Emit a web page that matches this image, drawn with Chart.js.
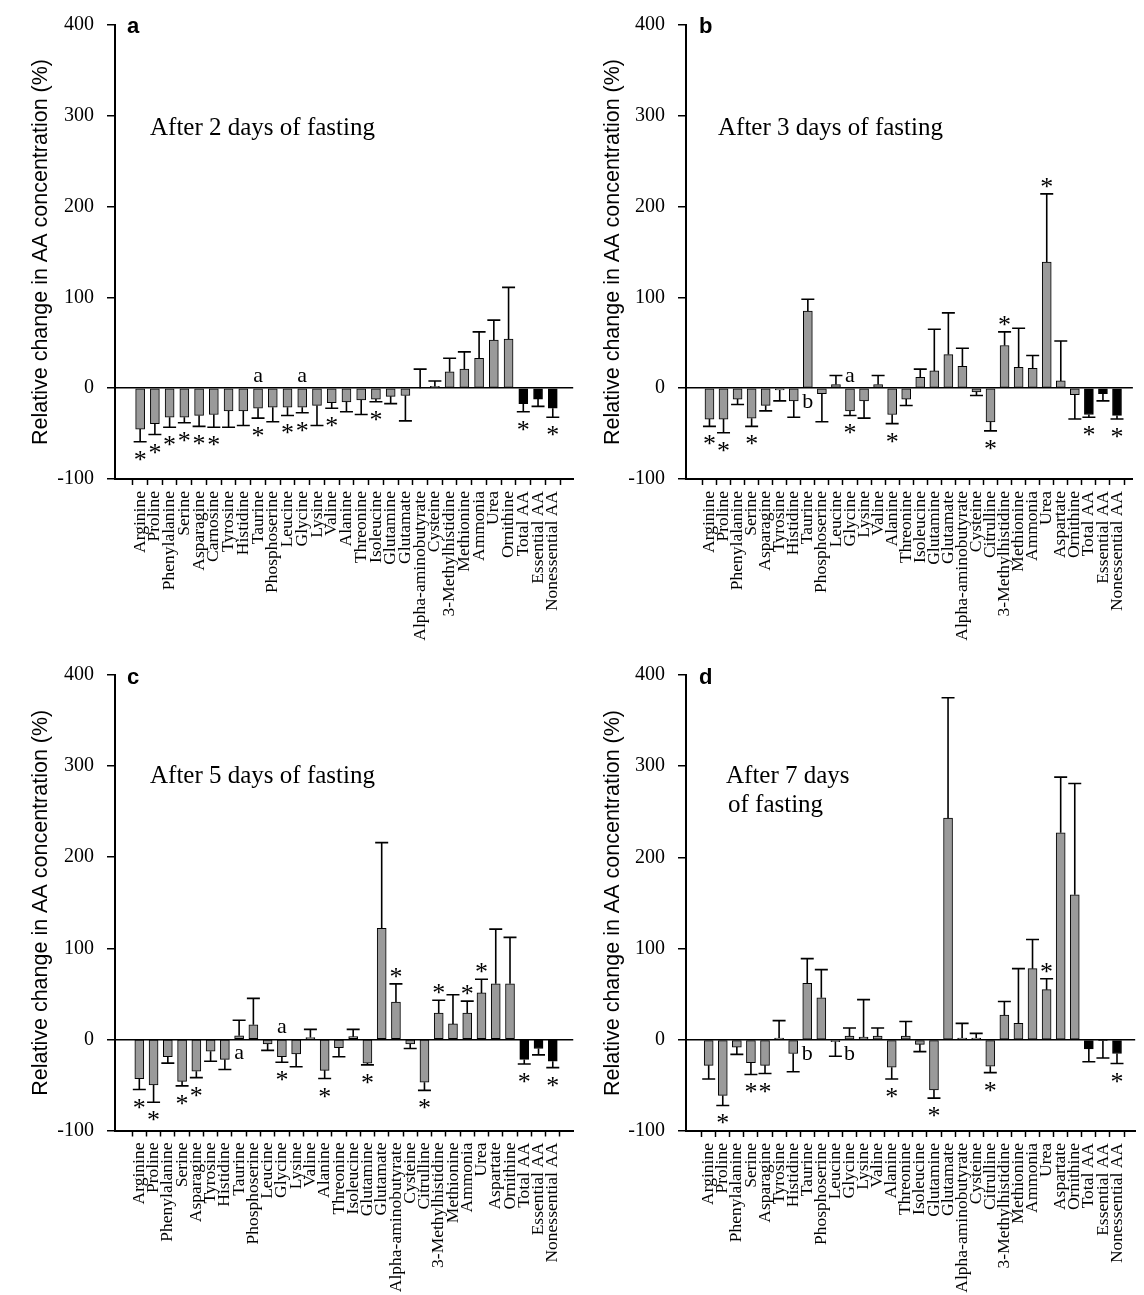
<!DOCTYPE html>
<html>
<head>
<meta charset="utf-8">
<script src="https://cdn.jsdelivr.net/npm/chart.js@4.4.1/dist/chart.umd.min.js"></script>
<style>
  body { margin: 0; background: #fff; }
  #wrap { position: relative; width: 1144px; height: 1295px; overflow: hidden; }
  canvas { position: absolute; }
</style>
</head>
<body>
<div id="wrap">
  <canvas id="panelA" width="580" height="650" style="left:0;top:0"></canvas>
  <canvas id="panelB" width="572" height="650" style="left:572px;top:0"></canvas>
  <canvas id="panelC" width="580" height="645" style="left:0;top:650px"></canvas>
  <canvas id="panelD" width="572" height="645" style="left:572px;top:650px"></canvas>
</div>
<script>
// categories
const namesA = ['Arginine', 'Proline', 'Phenylalanine', 'Serine', 'Asparagine', 'Carnosine', 'Tyrosine',
  'Histidine', 'Taurine', 'Phosphoserine', 'Leucine', 'Glycine', 'Lysine', 'Valine', 'Alanine',
  'Threonine', 'Isoleucine', 'Glutamine', 'Glutamate', 'Alpha-aminobutyrate', 'Cysteine',
  '3-Methylhistidine', 'Methionine', 'Ammonia', 'Urea', 'Ornithine', 'Total AA', 'Essential AA',
  'Nonessential AA'];
const namesBCD = ['Arginine', 'Proline', 'Phenylalanine', 'Serine', 'Asparagine', 'Tyrosine', 'Histidine',
  'Taurine', 'Phosphoserine', 'Leucine', 'Glycine', 'Lysine', 'Valine', 'Alanine', 'Threonine',
  'Isoleucine', 'Glutamine', 'Glutamate', 'Alpha-aminobutyrate', 'Cysteine', 'Citrulline',
  '3-Methylhistidine', 'Methionine', 'Ammonia', 'Urea', 'Aspartate', 'Ornithine', 'Total AA',
  'Essential AA', 'Nonessential AA'];

// a: after 2 days
const meanA = [-45, -39, -32, -32, -30, -29, -25, -25, -22, -21, -21, -21, -19, -16, -15, -13, -12, -9, -8,
  0, 2, 18, 21, 33, 53, 54, -17, -12, -22];
const errA = [14, 12, 11, 6, 12, 14, 18, 16, 11, 16, 9, 6, 22, 6, 11, 16, 3, 8, 28,
  21, 6, 15, 19, 29, 22, 57, 9, 8, 10];
const starsA = [0, 1, 2, 3, 4, 5, 8, 10, 11, 13, 16, 26, 28];
const lettersA = [[8, 'a'], [11, 'a']];

// b: after 3 days
const meanB = [-34, -34, -12, -33, -19, -2, -14, 85, -6, 4, -25, -14, 4, -29, -12, 12, 19, 37, 24, -4,
  -37, 47, 23, 22, 139, 8, -7, -29, -6, -30];
const errB = [8, 15, 6, 9, 6, 12, 18, 13, 31, 10, 5, 19, 10, 10, 7, 9, 46, 46, 20, 4,
  10, 15, 43, 14, 75, 44, 27, 3, 8, 4];
const starsB = [0, 1, 3, 10, 13, 20, 21, 24, 27, 29];
const lettersB = [[7, 'b'], [10, 'a']];

// c: after 5 days
const meanC = [-43, -50, -19, -46, -35, -13, -22, 4, 16, -5, -19, -16, 2, -34, -9, 3, -26, 122, 41, -5,
  -47, 29, 17, 29, 51, 61, 61, -22, -10, -24];
const errC = [12, 19, 7, 5, 7, 11, 11, 17, 29, 7, 6, 14, 9, 9, 10, 8, 2, 94, 20, 5,
  9, 14, 32, 13, 15, 60, 51, 5, 7, 7];
const starsC = [0, 1, 3, 4, 10, 13, 16, 18, 20, 21, 23, 24, 27, 29];
const lettersC = [[7, 'a'], [10, 'a']];

// d: after 7 days
const meanD = [-28, -61, -8, -25, -28, 2, -15, 62, 46, -2, 4, 3, 4, -30, 4, -5, -55, 243, 2, 2,
  -29, 27, 18, 78, 55, 227, 159, -10, -1, -15];
const errD = [15, 11, 8, 13, 9, 19, 20, 27, 31, 16, 9, 41, 9, 13, 16, 8, 9, 132, 16, 5,
  7, 15, 60, 32, 12, 61, 122, 14, 19, 11];
const starsD = [1, 3, 4, 13, 16, 20, 24, 29];
const lettersD = [[7, 'b'], [10, 'b']];

const SERIF = '"Liberation Serif", "Times New Roman", serif';
const SANS = '"Liberation Sans", Arial, sans-serif';

// error bars, asterisks, letters and panel texts
const marksPlugin = {
  id: 'marks',
  afterDatasetsDraw(chart, args, o) {
    const { ctx } = chart;
    const x = chart.scales.x, y = chart.scales.y;
    const ends = o.means.map((m, i) => m >= 0 ? m + o.errs[i] : m - o.errs[i]);
    ctx.save();
    ctx.strokeStyle = '#000';
    ctx.lineWidth = 1.6;
    o.means.forEach((m, i) => {
      const px = x.getPixelForValue(i);
      const y0 = y.getPixelForValue(m);
      const y1 = y.getPixelForValue(ends[i]);
      ctx.beginPath();
      ctx.moveTo(px, y0);
      ctx.lineTo(px, y1);
      ctx.moveTo(px - 6.5, y1);
      ctx.lineTo(px + 6.5, y1);
      ctx.stroke();
    });
    ctx.fillStyle = '#000';
    ctx.textAlign = 'center';
    ctx.textBaseline = 'alphabetic';
    ctx.font = '26px ' + SERIF;
    o.stars.forEach(i => {
      const y1 = y.getPixelForValue(ends[i]);
      ctx.fillText('*', x.getPixelForValue(i), o.means[i] >= 0 ? y1 + 1 : y1 + 26);
    });
    ctx.font = '22px ' + SERIF;
    const zero = y.getPixelForValue(0);
    o.letters.forEach(([i, t]) => {
      ctx.fillText(t, x.getPixelForValue(i), o.means[i] < 0 ? zero - 6 : zero + 20);
    });
    ctx.textAlign = 'left';
    ctx.font = '25px ' + SERIF;
    o.title.forEach(([t, tx, ty]) => ctx.fillText(t, tx, ty));
    ctx.font = 'bold 22px ' + SANS;
    ctx.fillText(o.tag, 127, o.tagY);
    ctx.restore();
  }
};

function makePanel(id, names, means, errs, stars, letters, cfg) {
  const colors = names.map((n, i) => i >= names.length - 3 ? '#000' : '#9a9a9a');
  return new Chart(document.getElementById(id), {
    type: 'bar',
    data: {
      datasets: [{
        data: means.map((m, i) => ({ x: i, y: m })),
        backgroundColor: colors,
        borderColor: '#000',
        borderWidth: 1,
        borderSkipped: false,
        barThickness: 9
      }]
    },
    plugins: [marksPlugin],
    options: {
      responsive: false,
      animation: false,
      devicePixelRatio: 1,
      layout: { padding: { top: cfg.top, right: cfg.right, left: 0, bottom: 0 } },
      plugins: {
        legend: { display: false },
        tooltip: { enabled: false },
        marks: { means, errs, stars, letters, title: cfg.title, tag: cfg.tag, tagY: cfg.tagY }
      },
      scales: {
        x: {
          type: 'linear',
          min: cfg.xmin,
          max: cfg.xmax,
          afterBuildTicks: s => { s.ticks = names.map((n, i) => ({ value: i })); },
          afterFit: s => { s.height = cfg.xh; },
          ticks: {
            autoSkip: false,
            minRotation: 90,
            maxRotation: 90,
            padding: 6,
            color: '#000',
            font: { family: SERIF, size: 17.5 },
            callback: v => names[v] !== undefined ? names[v] : ''
          },
          grid: { drawOnChartArea: false, drawTicks: true, tickLength: 6, tickColor: '#000', tickWidth: 1.5 },
          border: { display: true, color: '#000', width: 2 }
        },
        y: {
          min: -100,
          max: 400,
          afterFit: s => { s.width = cfg.yw; },
          ticks: { stepSize: 100, padding: 13, color: '#000', font: { family: SERIF, size: 20 } },
          grid: {
            drawOnChartArea: true,
            color: c => (c.tick && c.tick.value === 0) ? '#000' : 'rgba(0,0,0,0)',
            lineWidth: 1.5,
            drawTicks: true,
            tickLength: 8,
            tickColor: '#000',
            tickWidth: 1.5
          },
          border: { display: true, color: '#000', width: 2 },
          title: {
            display: true,
            text: 'Relative change in AA concentration (%)',
            color: '#000',
            font: { family: SANS, size: 21.5 },
            padding: { top: 28, bottom: 0 }
          }
        }
      }
    }
  });
}

makePanel('panelA', namesA, meanA, errA, starsA, lettersA, {
  top: 18.5, right: 5, xh: 171, yw: 115, xmin: -1.17, xmax: 28.85,
  title: [['After 2 days of fasting', 150, 135]], tag: 'a', tagY: 33
});
makePanel('panelB', namesBCD, meanB, errB, starsB, lettersB, {
  top: 18.5, right: 0, xh: 171, yw: 114, xmin: -1.14, xmax: 29.6,
  title: [['After 3 days of fasting', 146, 135]], tag: 'b', tagY: 33
});
makePanel('panelC', namesBCD, meanC, errC, starsC, lettersC, {
  top: 19, right: 5, xh: 164.5, yw: 115, xmin: -1.17, xmax: 29.9,
  title: [['After 5 days of fasting', 150, 133]], tag: 'c', tagY: 34
});
makePanel('panelD', namesBCD, meanD, errD, starsD, lettersD, {
  top: 20, right: 0, xh: 164, yw: 114, xmin: -1.08, xmax: 29.76,
  title: [['After 7 days', 154, 133], ['of fasting', 156, 162]], tag: 'd', tagY: 34
});
</script>
</body>
</html>
